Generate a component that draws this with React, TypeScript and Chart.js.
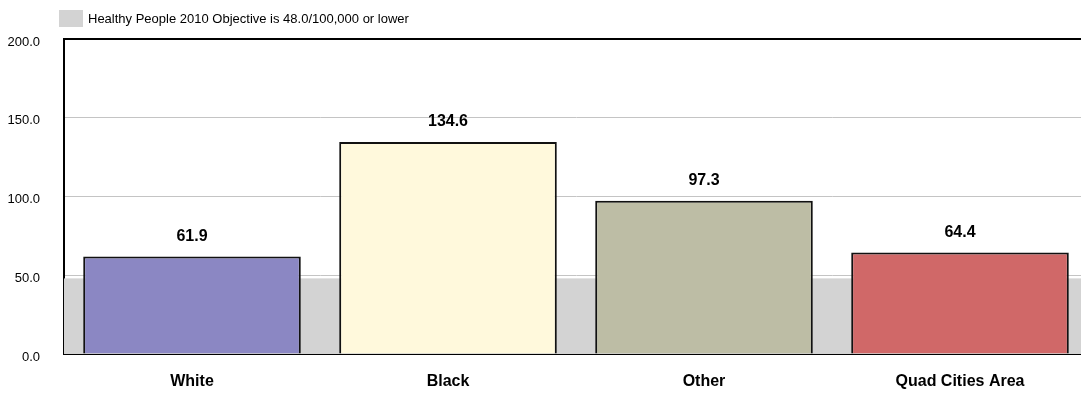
import React, { useEffect, useRef } from "react";
import { Chart, registerables } from "chart.js";

Chart.register(...registerables);

const categories = ["White", "Black", "Other", "Quad Cities Area"];
const rates = [61.9, 134.6, 97.3, 64.4];
const barColors = ["#8B87C3", "#FFF9DC", "#BDBDA5", "#D06868"];
const objectiveValue = 48.0;
const objectiveLabel = "Healthy People 2010 Objective is 48.0/100,000 or lower";
const yTicks = [0, 50, 100, 150, 200];

const FONT = "'Liberation Sans', Arial, sans-serif";

const bandPlugin = {
  id: "objectiveBand",
  beforeDatasetsDraw(chart: any) {
    const { ctx, chartArea, scales } = chart;
    const yTop = scales.y.getPixelForValue(objectiveValue);
    const yBot = scales.y.getPixelForValue(0);
    ctx.save();
    ctx.fillStyle = "#D3D3D3";
    ctx.fillRect(chartArea.left, yTop, chartArea.right - chartArea.left, yBot - yTop);
    ctx.restore();
  },
  afterDraw(chart: any) {
    const { ctx } = chart;
    ctx.save();
    ctx.fillStyle = "#D3D3D3";
    ctx.fillRect(59, 10, 24, 17);
    ctx.fillStyle = "#000";
    ctx.font = `13px ${FONT}`;
    ctx.textBaseline = "middle";
    ctx.textAlign = "left";
    ctx.fillText(objectiveLabel, 88, 19);
    ctx.restore();
  },
};

const labelPlugin = {
  id: "valueLabels",
  afterDatasetsDraw(chart: any) {
    const { ctx } = chart;
    const meta = chart.getDatasetMeta(0);
    ctx.save();
    ctx.fillStyle = "#000";
    ctx.font = `bold 16px ${FONT}`;
    ctx.textAlign = "center";
    ctx.textBaseline = "middle";
    meta.data.forEach((bar: any, i: number) => {
      ctx.fillText(rates[i].toFixed(1), bar.x, bar.y - 20);
    });
    ctx.restore();
  },
};

export default function App() {
  const ref = useRef<HTMLCanvasElement>(null);
  useEffect(() => {
    if (!ref.current) return;
    const chart = new Chart(ref.current, {
      type: "bar",
      data: {
        labels: categories,
        datasets: [
          {
            data: rates,
            backgroundColor: barColors,
            borderColor: "#111",
            borderWidth: 2,
            categoryPercentage: 0.85,
            barPercentage: 1,
          },
        ],
      },
      options: {
        responsive: false,
        animation: false,
        layout: { padding: { top: 39, right: 12, left: 0, bottom: 0 } },
        plugins: { legend: { display: false }, tooltip: { enabled: false } },
        scales: {
          x: {
            grid: { display: false, drawTicks: false },
            border: { display: true, color: "#000", width: 2 },
            ticks: { color: "#000", font: { family: FONT, size: 16, weight: "bold" }, padding: 18 },
            afterFit(scale: any) {
              scale.height = 39;
            },
          },
          y: {
            min: 0,
            max: 200,
            afterBuildTicks(scale: any) {
              scale.ticks = yTicks.map((v) => ({ value: v }));
            },
            grid: {
              drawTicks: false,
              color: (c: any) => (c.tick && c.tick.value === 200 ? "#000" : c.tick && c.tick.value === 0 ? "rgba(0,0,0,0)" : "#C4C4C4"),
              lineWidth: (c: any) => (c.tick && c.tick.value === 200 ? 2 : 1),
            },
            border: { display: true, color: "#000", width: 2 },
            ticks: {
              color: "#000",
              font: { family: FONT, size: 13 },
              padding: 24,
              labelOffset: 3,
              callback: (v: any) => Number(v).toFixed(1),
            },
            afterFit(scale: any) {
              scale.width = 64;
            },
          },
        },
      },
      plugins: [bandPlugin, labelPlugin],
    });
    return () => chart.destroy();
  }, []);
  return (
    <div style={{ position: "fixed", left: 0, top: 0, width: 1081, height: 393, overflow: "hidden", background: "#fff" }}>
      <canvas ref={ref} width={1100} height={393} style={{ width: 1100, height: 393, display: "block" }} />
    </div>
  );
}
